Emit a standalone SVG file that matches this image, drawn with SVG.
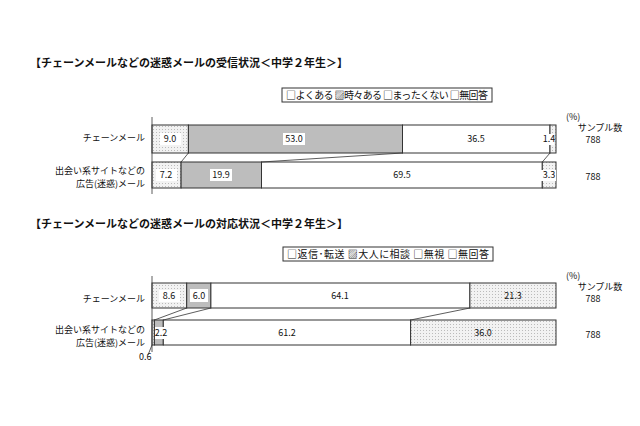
<svg xmlns="http://www.w3.org/2000/svg" width="640" height="426" viewBox="0 0 640 426">
<defs>
<pattern id="dot" width="3" height="3" patternUnits="userSpaceOnUse"><rect width="3" height="3" fill="#f2f2f2"/><rect width="1" height="1" fill="#bbb"/></pattern>
<style>
text{font-family:"Noto Sans CJK JP","Liberation Sans",sans-serif;font-size:9px;fill:#111}
.t{font-size:11px;font-weight:bold}
.v{text-anchor:middle}
.lg{font-size:10px}
.b{stroke:#333;stroke-width:1}
.w{fill:#fff}.g{fill:#bdbdbd}.d{fill:url(#dot)}
.l{fill:none;stroke:#333;stroke-width:0.8}
</style>
</defs>
<rect width="640" height="426" fill="#fff"/>
<text class="t" x="30" y="67">【チェーンメールなどの迷惑メールの受信状況＜中学２年生＞】</text>
<text class="t" x="30" y="228">【チェーンメールなどの迷惑メールの対応状況＜中学２年生＞】</text>
<g id="legend1"><rect x="282" y="88" width="210" height="14" class="w b"/><text x="286" y="99" class="lg" textLength="202">□よくある ▨時々ある □まったくない □無回答</text></g>
<g id="legend2"><rect x="283" y="247" width="210" height="14" class="w b"/><text x="287" y="258" class="lg" textLength="202">□返信･転送 ▨大人に相談 □無視 □無回答</text></g>
<g id="labels">
<text x="145" y="141" text-anchor="end">チェーンメール</text>
<text x="145" y="174" text-anchor="end">出会い系サイトなどの</text>
<text x="145" y="187" text-anchor="end">広告(迷惑)メール</text>
<text x="566" y="120" font-size="7">(%)</text>
<text x="600" y="131" class="v">サンプル数</text>
<text x="593" y="143" class="v">788</text>
<text x="593" y="180" class="v">788</text>
<text x="145" y="302" text-anchor="end">チェーンメール</text>
<text x="145" y="333" text-anchor="end">出会い系サイトなどの</text>
<text x="145" y="346" text-anchor="end">広告(迷惑)メール</text>
<text x="566" y="279" font-size="7">(%)</text>
<text x="600" y="290" class="v">サンプル数</text>
<text x="593" y="302" class="v">788</text>
<text x="593" y="338" class="v">788</text>
<text x="139" y="360">0.6</text>
</g>
<g id="chart1-bar1">
<rect x="152" y="125" width="36.4" height="28" class="d b"/><rect x="188.4" y="125" width="214.1" height="28" class="g b"/><rect x="402.5" y="125" width="147.5" height="28" class="w b"/><rect x="550" y="125" width="6" height="28" class="d b"/>
<rect x="160" y="133" width="21" height="12" class="w"/><text x="170" y="142" class="v">9.0</text>
<rect x="283" y="133" width="22" height="12" class="w"/><text x="294" y="142" class="v">53.0</text>
<text x="476" y="142" class="v">36.5</text>
<rect x="543" y="134" width="11" height="11" class="w"/><text x="549" y="142" class="v">1.4</text>
</g>
<g id="chart1-bar2">
<rect x="152" y="162" width="29.1" height="26" class="d b"/><rect x="181.1" y="162" width="80.4" height="26" class="g b"/><rect x="261.5" y="162" width="280.8" height="26" class="w b"/><rect x="542.3" y="162" width="13.7" height="26" class="d b"/>
<rect x="156" y="169" width="21" height="12" class="w"/><text x="166" y="178" class="v">7.2</text>
<rect x="210" y="169" width="22" height="12" class="w"/><text x="221" y="178" class="v">19.9</text>
<text x="402" y="178" class="v">69.5</text>
<rect x="541" y="170" width="15" height="11" class="w"/><text x="549" y="178" class="v">3.3</text>
</g>
<g id="chart2-bar1">
<rect x="152" y="283" width="34.7" height="25" class="d b"/><rect x="186.7" y="283" width="24.2" height="25" class="g b"/><rect x="210.9" y="283" width="259" height="25" class="w b"/><rect x="469.9" y="283" width="86.1" height="25" class="d b"/>
<rect x="159" y="290" width="21" height="12" class="w"/><text x="169" y="299" class="v">8.6</text>
<rect x="190" y="289" width="18" height="13" class="w"/><text x="199" y="299" class="v">6.0</text>
<text x="340" y="299" class="v">64.1</text>
<text x="513" y="299" class="v">21.3</text>
</g>
<g id="chart2-bar2">
<rect x="152" y="320" width="2.4" height="25" class="d b"/><rect x="154.4" y="320" width="8.9" height="25" class="g b"/><rect x="163.3" y="320" width="247.3" height="25" class="w b"/><rect x="410.6" y="320" width="145.4" height="25" class="d b"/>
<rect x="155" y="327" width="13" height="12" class="w"/><text x="161" y="336" class="v">2.2</text>
<text x="287" y="336" class="v">61.2</text>
<text x="483" y="336" class="v">36.0</text>
</g>
<g id="connectors">
<line x1="152" y1="117" x2="152" y2="194" class="l"/>
<line x1="188.4" y1="153" x2="181.1" y2="162" class="l"/>
<line x1="402.5" y1="153" x2="261.5" y2="162" class="l"/>
<line x1="550" y1="153" x2="542.3" y2="162" class="l"/>
<line x1="152" y1="276" x2="152" y2="352" class="l"/>
<line x1="186.7" y1="308" x2="154.4" y2="320" class="l"/>
<line x1="210.9" y1="308" x2="163.3" y2="320" class="l"/>
<line x1="469.9" y1="308" x2="410.6" y2="320" class="l"/>
<line x1="148" y1="355" x2="152" y2="345" class="l"/>
</g>
</svg>
